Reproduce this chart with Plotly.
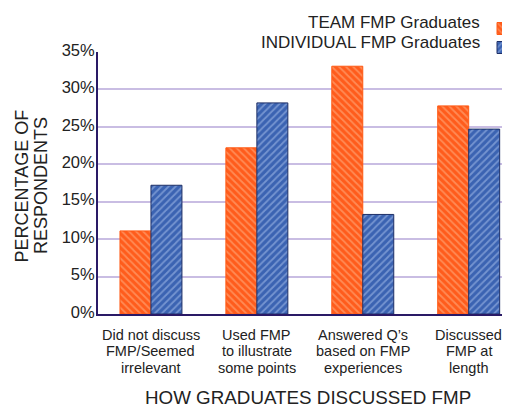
import plotly.graph_objects as go

categories = ["Did not discuss<br>FMP/Seemed<br>irrelevant",
              "Used FMP<br>to illustrate<br>some points",
              "Answered Q’s<br>based on FMP<br>experiences",
              "Discussed<br>FMP at<br>length"]
team = [11.1, 22.2, 33.1, 27.8]
individual = [17.2, 28.2, 13.3, 24.7]
series_names = ["TEAM FMP Graduates", "INDIVIDUAL FMP Graduates"]
y_ticks = [0, 5, 10, 15, 20, 25, 30, 35]
y_tick_labels = [f"{v}%" for v in y_ticks]
x_title = "HOW GRADUATES DISCUSSED FMP"
y_title_lines = ["PERCENTAGE OF", "RESPONDENTS"]

FONT = "Liberation Sans, Arial, sans-serif"
TXT = "#222"

fig = go.Figure()
fig.add_trace(go.Bar(
    x=categories, y=team, name=" ",
    marker=dict(color="#ff5c1c", line=dict(color="#ff5a14", width=1),
                pattern=dict(shape="\\", fgcolor="#ffb98e", size=5, solidity=0.35, fillmode="overlay")),
))
fig.add_trace(go.Bar(
    x=categories, y=individual, name=" ",
    marker=dict(color="#3b63b2", line=dict(color="#1e2f66", width=1),
                pattern=dict(shape="/", fgcolor="#b0c6ee", size=5, solidity=0.35, fillmode="overlay")),
))

# legend labels (text to the left of swatches, as in the reference)
for nm, yy in zip(series_names, [1.1145, 1.038]):
    fig.add_annotation(text=nm, xref="paper", yref="paper", x=0.932, y=yy,
                       xanchor="right", yanchor="middle", showarrow=False,
                       font=dict(family=FONT, size=17, color=TXT))

# category labels, one line per annotation for tight line spacing
line_y = [-0.0802, -0.1412, -0.2061]
for cat in categories:
    for ln, yy in zip(cat.split("<br>"), line_y):
        fig.add_annotation(text=ln, xref="x", yref="paper", x=cat, y=yy,
                           xanchor="center", yanchor="middle", showarrow=False,
                           font=dict(family=FONT, size=14.5, color=TXT))

# axis titles
fig.add_annotation(text=x_title, xref="paper", yref="paper", x=0.51, y=-0.3187,
                   xanchor="center", yanchor="middle", showarrow=False,
                   font=dict(family=FONT, size=18.8, color=TXT))
for ln, xx in zip(y_title_lines, [-0.1833, -0.1383]):
    fig.add_annotation(text=ln, xref="paper", yref="paper", x=xx, y=0.4885,
                       xanchor="center", yanchor="middle", showarrow=False, textangle=-90,
                       font=dict(family=FONT, size=18, color=TXT))

fig.update_layout(
    width=502, height=400,
    margin=dict(l=90, r=0, t=44, b=94, autoexpand=False),
    paper_bgcolor="white", plot_bgcolor="white",
    barmode="group", bargap=0.415, bargroupgap=0,
    font=dict(family=FONT, size=16, color=TXT),
    showlegend=True,
    legend=dict(x=0.9345, y=1.145, xanchor="left", yanchor="top", tracegroupgap=0,
                font=dict(size=12), bgcolor="rgba(0,0,0,0)"),
    xaxis=dict(range=[-0.5, 3.39], showline=True, linecolor="#2a1a66", linewidth=2,
               ticks="", showticklabels=False),
    yaxis=dict(range=[0, 35], tickvals=y_ticks, ticktext=y_tick_labels,
               showline=True, linecolor="#2a1a66", linewidth=2, ticks="",
               gridcolor="#c9bde3", gridwidth=2, zeroline=False,
               ticklabelshift=-2, ticklabelstandoff=-2,
               tickfont=dict(size=16.5, color=TXT)),
)
fig.write_html("out.html")
